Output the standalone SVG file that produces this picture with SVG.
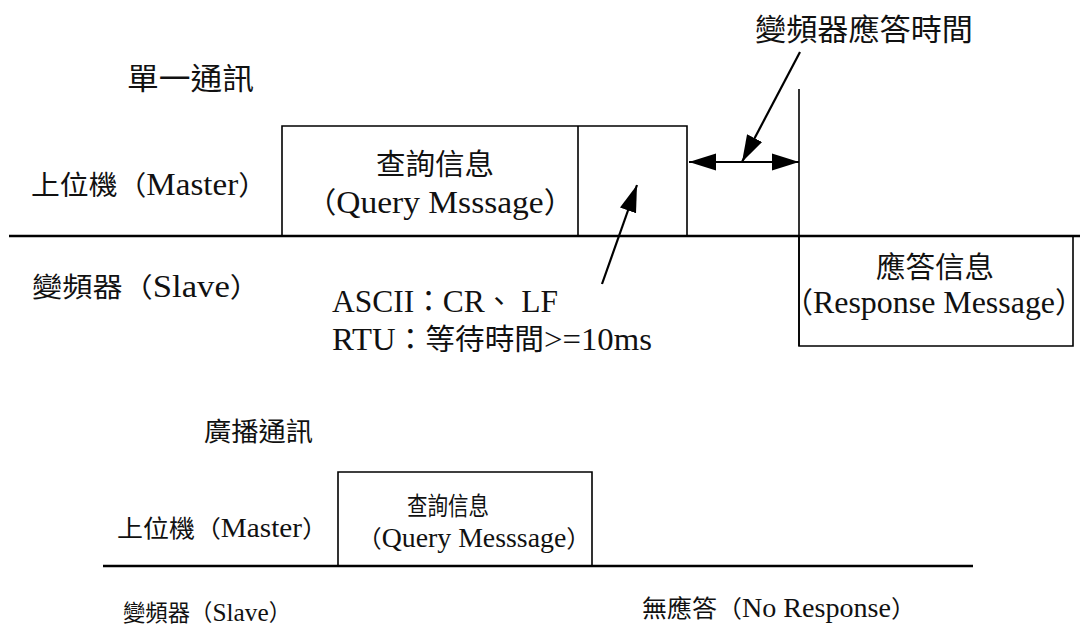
<svg xmlns="http://www.w3.org/2000/svg" width="1085" height="626" viewBox="0 0 1085 626">
<style>
.t{font-family:"Liberation Serif","Noto Sans CJK TC",serif;fill:#111}
.ln{stroke:#000;fill:none}
.base{stroke-width:2.5}
.box{stroke-width:1.6}
.arr{stroke-width:2.2}
</style>
<defs>
<marker id="ah" markerUnits="userSpaceOnUse" markerWidth="28" markerHeight="20" viewBox="0 0 28 20" refX="27" refY="10" orient="auto-start-reverse">
<path d="M0,1.5 L27,10 L0,18.5 Z" fill="#000"/>
</marker>
</defs>
<rect width="1085" height="626" fill="#fff"/>

<g id="title-single"><text class="t" x="127" y="89" font-size="30" textLength="127" lengthAdjust="spacingAndGlyphs">單一通訊</text></g>
<g id="master-top"><text class="t" x="31" y="195" font-size="27" textLength="236" lengthAdjust="spacingAndGlyphs">上位機（<tspan font-size="31">Master</tspan>）</text></g>
<g id="slave-top"><text class="t" x="32" y="297" font-size="27" textLength="228" lengthAdjust="spacingAndGlyphs">變頻器（<tspan font-size="31">Slave</tspan>）</text></g>

<g id="query-top">
<path class="ln box" d="M282,236 V126 H687 V236 M578,126 V236"/>
<text class="t" x="435" y="175" font-size="29" text-anchor="middle" textLength="118" lengthAdjust="spacingAndGlyphs">查詢信息</text>
<text class="t" x="440" y="213" font-size="29" text-anchor="middle" textLength="268" lengthAdjust="spacingAndGlyphs">（<tspan font-size="32">Query Msssage</tspan>）</text>
</g>

<g id="response">
<path class="ln box" d="M799,236 V346 H1073 V236"/>
<text class="t" x="935" y="278" font-size="29" text-anchor="middle" textLength="118" lengthAdjust="spacingAndGlyphs">應答信息</text>
<text class="t" x="934" y="313" font-size="29" text-anchor="middle" textLength="300" lengthAdjust="spacingAndGlyphs">（<tspan font-size="32">Response Message</tspan>）</text>
</g>

<g id="resp-time-label"><text class="t" x="755" y="40" font-size="30" textLength="218" lengthAdjust="spacingAndGlyphs">變頻器應答時間</text></g>

<g id="end-note">
<text class="t" x="332" y="312" font-size="29" textLength="226" lengthAdjust="spacingAndGlyphs"><tspan font-size="32">ASCII</tspan>：<tspan font-size="32">CR</tspan>、<tspan font-size="32"> LF</tspan></text>
<text class="t" x="332" y="350" font-size="29" textLength="320" lengthAdjust="spacingAndGlyphs"><tspan font-size="32">RTU</tspan>：等待時間<tspan font-size="32">&gt;=10ms</tspan></text>
</g>

<g id="title-broadcast"><text class="t" x="204" y="441" font-size="26" textLength="109" lengthAdjust="spacingAndGlyphs">廣播通訊</text></g>
<g id="master-bottom"><text class="t" x="117" y="537" font-size="24" textLength="211" lengthAdjust="spacingAndGlyphs">上位機（<tspan font-size="27">Master</tspan>）</text></g>
<g id="slave-bottom"><text class="t" x="123" y="621" font-size="23" textLength="168" lengthAdjust="spacingAndGlyphs">變頻器（<tspan font-size="26">Slave</tspan>）</text></g>

<g id="query-bottom">
<path class="ln box" d="M338,566 V472 H592 V566"/>
<text class="t" x="448" y="515" font-size="25" text-anchor="middle" textLength="82" lengthAdjust="spacingAndGlyphs">查詢信息</text>
<text class="t" x="474" y="547" font-size="24" text-anchor="middle" textLength="234" lengthAdjust="spacingAndGlyphs">（<tspan font-size="27">Query Messsage</tspan>）</text>
</g>

<g id="no-response"><text class="t" x="642" y="617" font-size="24" textLength="274" lengthAdjust="spacingAndGlyphs">無應答（<tspan font-size="27">No Response</tspan>）</text></g>

<g id="connectors">
<path class="ln base" d="M9,236 H1080"/>
<path class="ln base" d="M103,566 H973"/>
<path class="ln box" d="M799,89 V346"/>
<path class="ln arr" d="M689,162 H799" marker-start="url(#ah)" marker-end="url(#ah)"/>
<path class="ln arr" d="M800,52 L742,162" marker-end="url(#ah)"/>
<path class="ln arr" d="M602,284 L637,185" marker-end="url(#ah)"/>
</g>
</svg>
